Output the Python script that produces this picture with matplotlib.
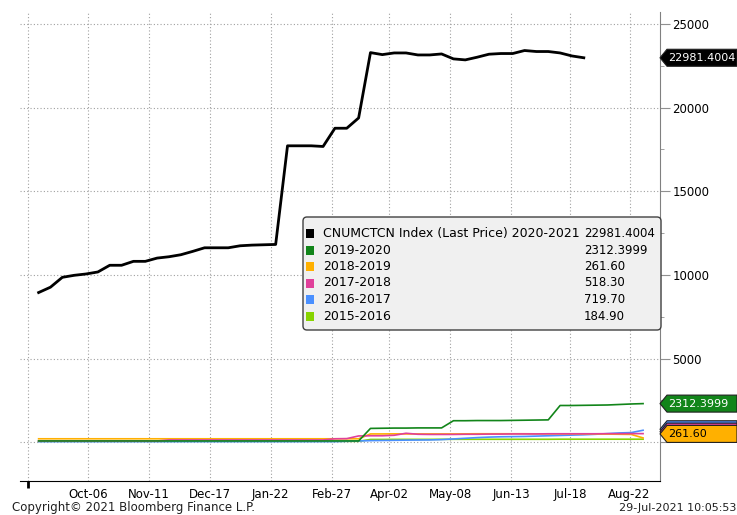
import matplotlib
matplotlib.use('Agg')
import matplotlib.pyplot as plt
from matplotlib.patches import Polygon, FancyBboxPatch
from matplotlib.transforms import IdentityTransform
import pandas as pd

# weekly observations, season starting early September
weeks = pd.date_range('2020-09-07', periods=52, freq='7D')

s2020 = [8950, 9270, 9860, 9980, 10060, 10180, 10580, 10580, 10815, 10815,
         11010, 11090, 11210, 11410, 11625, 11625, 11625, 11745, 11785, 11805,
         11825, 17720, 17720, 17720, 17680, 18770, 18770, 19385, 23290, 23170,
         23270, 23270, 23150, 23150, 23210, 22915, 22855, 23015, 23195, 23235,
         23235, 23415, 23355, 23355, 23270, 23090, 22981.4004]
s2019 = [80, 80, 80, 80, 80, 80, 80, 80, 80, 80,
         80, 80, 80, 80, 80, 80, 80, 80, 80, 80,
         80, 80, 80, 80, 80, 80, 80, 80, 830, 840,
         850, 850, 860, 860, 860, 1290, 1290, 1300, 1300, 1300,
         1310, 1320, 1330, 1340, 2200, 2200, 2210, 2220, 2230, 2260,
         2290, 2312.3999]
s2018 = [210, 210, 210, 210, 210, 210, 210, 210, 210, 210,
         210, 210, 210, 210, 210, 210, 210, 210, 210, 210,
         210, 210, 210, 210, 210, 210, 210, 210, 500, 500,
         505, 500, 500, 500, 500, 500, 505, 510, 510, 510,
         510, 510, 505, 505, 505, 505, 500, 500, 490, 480,
         470, 261.60]
s2017 = [80, 80, 80, 80, 80, 80, 80, 80, 80, 80,
         80, 140, 140, 140, 140, 140, 140, 140, 140, 140,
         140, 140, 140, 140, 140, 210, 220, 380, 390, 390,
         420, 540, 480, 470, 470, 470, 480, 480, 490, 490,
         500, 500, 500, 510, 510, 510, 510, 510, 515, 515,
         520, 518.30]
s2016 = [40, 40, 40, 40, 40, 40, 40, 40, 40, 40,
         40, 40, 40, 40, 40, 40, 40, 40, 40, 40,
         40, 40, 40, 40, 40, 40, 60, 80, 100, 110,
         120, 130, 135, 140, 160, 200, 240, 280, 310, 330,
         340, 350, 370, 390, 410, 430, 450, 480, 520, 560,
         580, 719.70]
s2015 = [60, 60, 60, 60, 60, 60, 60, 60, 60, 60,
         60, 60, 60, 60, 60, 60, 60, 60, 60, 60,
         60, 60, 60, 60, 60, 60, 60, 60, 170, 170,
         175, 175, 175, 175, 180, 180, 180, 180, 180, 180,
         180, 180, 180, 180, 185, 185, 185, 185, 185, 185,
         185, 184.90]

names = ['CNUMCTCN Index (Last Price) 2020-2021', '2019-2020', '2018-2019',
         '2017-2018', '2016-2017', '2015-2016']
last_vals = ['22981.4004', '2312.3999', '261.60', '518.30', '719.70', '184.90']
colors = ['#000000', '#12851a', '#ffb000', '#e0409a', '#4a90ff', '#88d400']

tick_dates = ['2020-09-01', '2020-10-06', '2020-11-11', '2020-12-17', '2021-01-22',
              '2021-02-27', '2021-04-02', '2021-05-08', '2021-06-13', '2021-07-18',
              '2021-08-22']
tick_labels = ['', 'Oct-06', 'Nov-11', 'Dec-17', 'Jan-22', 'Feb-27', 'Apr-02',
               'May-08', 'Jun-13', 'Jul-18', 'Aug-22']
y_ticks = [0, 5000, 10000, 15000, 20000, 25000]
y_labels = ['', '5000', '10000', '15000', '20000', '25000']

W, H = 737, 515
fig = plt.figure(figsize=(W / 100, H / 100), dpi=100)
ax = fig.add_axes([20 / W, 1 - 481 / H, 640 / W, 469 / H])

ax.plot(weeks, s2015, color=colors[5], lw=1.2)
ax.plot(weeks, s2016, color=colors[4], lw=1.2)
ax.plot(weeks, s2018, color=colors[2], lw=1.2)
ax.plot(weeks, s2017, color=colors[3], lw=1.2)
ax.plot(weeks, s2019, color=colors[1], lw=1.2)
ax.plot(weeks[:len(s2020)], s2020, color=colors[0], lw=2)

ax.set_xlim(pd.Timestamp('2020-08-27'), pd.Timestamp('2021-09-09'))
ax.set_ylim(-2313, 25717)
ax.set_xticks(pd.to_datetime(tick_dates))
ax.set_xticklabels(tick_labels)
ax.set_yticks(y_ticks)
ax.set_yticklabels(y_labels)
ax.set_yticks([2500, 7500, 12500, 17500, 22500], minor=True)
ax.yaxis.tick_right()
ax.grid(True, linestyle=(0, (1, 2)), color='#a0a0a0', lw=0.8)
for side in ['left', 'top']:
    ax.spines[side].set_visible(False)
ax.spines['right'].set_color('#808080')
ax.spines['bottom'].set_color('#000000')
ax.tick_params(axis='y', which='major', length=7, color='#909090', labelsize=8.5, pad=2)
ax.tick_params(axis='y', which='minor', length=3, color='#909090')
ax.tick_params(axis='x', length=0, labelsize=8.5, pad=5)
first = ax.xaxis.get_major_ticks()[0]
first.tick1line.set_markersize(5)
first.tick1line.set_markeredgewidth(2)

# legend panel
fig.canvas.draw()
box = FancyBboxPatch((303, H - 330), 358, 113, boxstyle='round,pad=0,rounding_size=4',
                     transform=IdentityTransform(), fc='#f0f0f0', ec='#404040', lw=1,
                     zorder=5)
fig.add_artist(box)
row_y = [233.5, 250, 266.5, 283, 299.5, 316]
for name, val, col, yy in zip(names, last_vals, colors, row_y):
    sq = plt.Rectangle((306, H - yy - 4.5), 8, 9, transform=IdentityTransform(),
                       fc=col, ec='none', zorder=6)
    fig.add_artist(sq)
    fig.text(323 / W, 1 - yy / H, name, fontsize=9, va='center', ha='left', zorder=7)
    fig.text(584 / W, 1 - yy / H, val, fontsize=8.5, va='center', ha='left', zorder=7)


def tag(yval, text, fc, tc, shift=0):
    y = ax.transData.transform((0, yval))[1] + shift
    h = 8.5
    pts = [(660, y), (667, y - h), (737, y - h), (737, y + h), (667, y + h)]
    fig.add_artist(Polygon(pts, closed=True, transform=IdentityTransform(), fc=fc,
                           ec='#202020', lw=0.8, zorder=8))
    if text:
        fig.text(668 / W, y / H, text, color=tc, fontsize=8, va='center',
                 ha='left', zorder=9)


tag(22981.4004, '22981.4004', '#000000', 'white')
tag(2312.3999, '2312.3999', colors[1], 'white')
tag(719.70, '', colors[4], 'white', shift=1)
tag(518.30, '', colors[3], 'white', shift=2)
tag(261.60, '261.60', colors[2], '#000000', shift=4)

fig.text(12 / W, 1 - 508 / H, 'Copyright\u00a9 2021 Bloomberg Finance L.P.', fontsize=8.5,
         va='center', ha='left', color='#202020')
fig.text(736 / W, 1 - 508 / H, '29-Jul-2021 10:05:53', fontsize=8, va='center',
         ha='right', color='#202020')

fig.savefig('out.png', dpi=100)
